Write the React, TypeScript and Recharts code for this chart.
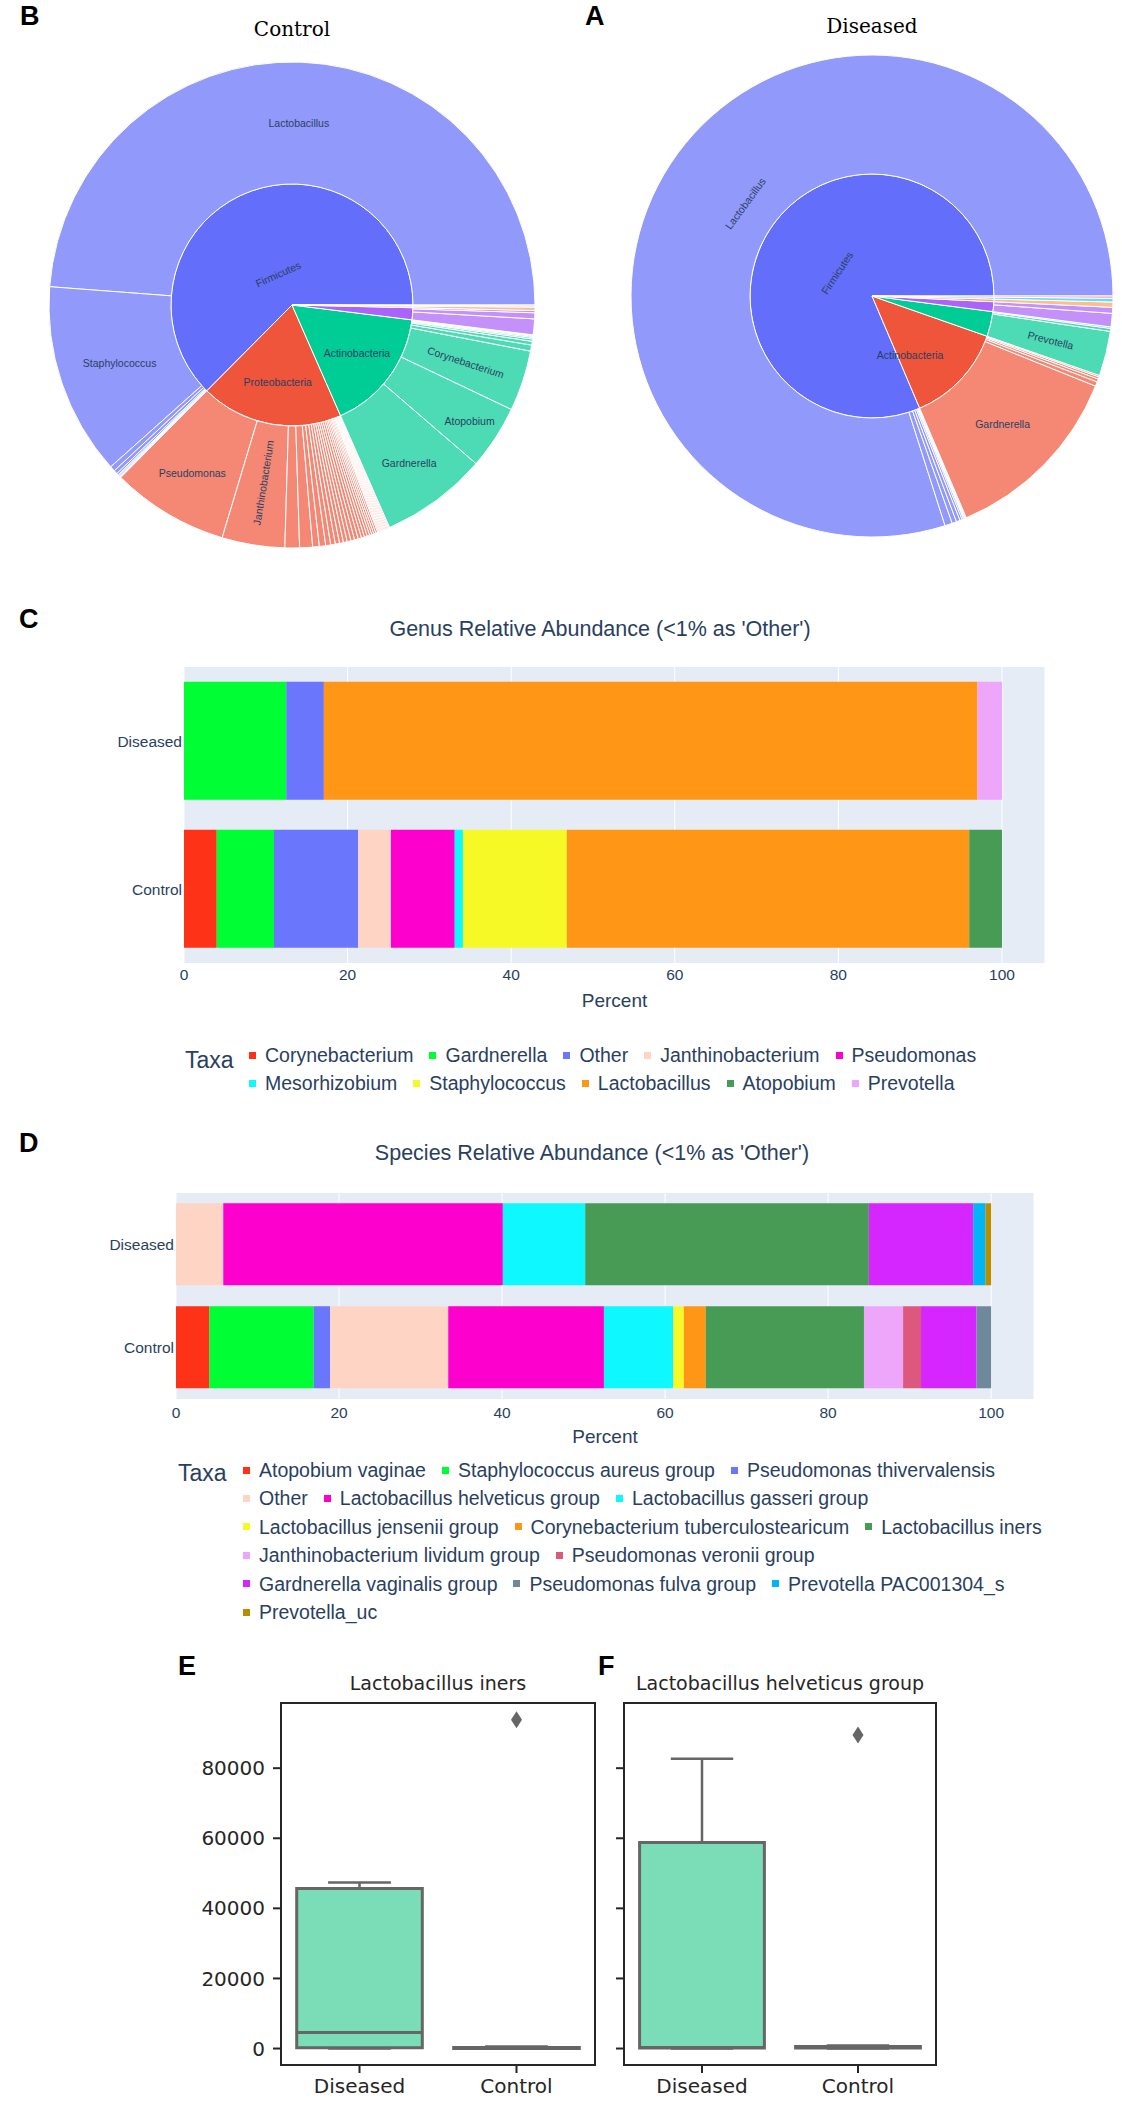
import React from 'react';
import {
  PieChart, Pie, Cell, BarChart, Bar, XAxis, YAxis, CartesianGrid,
  ComposedChart, Scatter, ReferenceArea, ReferenceLine,
} from 'recharts';

const SANS = '"Liberation Sans", Arial, sans-serif';
const DEJAVU = '"DejaVu Sans", sans-serif';
const SERIF = '"DejaVu Serif", serif';
const PLOTLY = ['#636EFA', '#EF553B', '#00CC96', '#AB63FA', '#FFA15A', '#19D3F3', '#FF6692'];
const LIGHT24 = ['#FD3216', '#00FE35', '#6A76FC', '#FED4C4', '#FE00CE', '#0DF9FF', '#F6F926', '#FF9616',
  '#479B55', '#EEA6FB', '#DC587D', '#D626FF', '#6E899C', '#00B5F7', '#B68E00'];

/* ---------- B: Control sunburst (percent of reads) ---------- */
const controlPhyla = ['Firmicutes', 'Proteobacteria', 'Actinobacteria', 'Bacteroidetes', 'Fusobacteria', 'Tenericutes', 'Chloroflexi'];
const ctrlFirmicutesNames = ['Lactobacillus', 'Staphylococcus'];
const ctrlFirmicutesValues = [48.8, 12.8, 0.35, 0.25, 0.12, 0.06, 0.06, 0.06, 0.06];
const ctrlProteoNames = ['Pseudomonas', 'Janthinobacterium', 'Mesorhizobium'];
const ctrlProteoValues = [7.8, 4.17, 0.97, 0.86, 0.44, 0.42, 0.33, 0.31, 0.28, 0.26, 0.25, 0.25, 0.25, 0.25,
  0.22, 0.2, 0.19, 0.17, 0.15, 0.14, 0.14, 0.13, 0.07, 0.07, 0.07, 0.07, 0.07, 0.07, 0.07, 0.07, 0.07, 0.07, 0.07, 0.07];
const ctrlActinoNames = ['Gardnerella', 'Atopobium', 'Corynebacterium'];
const ctrlActinoValues = [7.1, 4.25, 4.03, 0.4, 0.25, 0.15, 0.1, 0.08, 0.06, 0.04];
const ctrlBacteroValues = [1.05, 0.4, 0.15];
const ctrlFusoValues = [0.22];
const ctrlTeneValues = [0.08];
const ctrlChloroValues = [0.06];

/* ---------- A: Diseased sunburst ---------- */
const diseasedPhyla = ['Firmicutes', 'Actinobacteria', 'Bacteroidetes', 'Proteobacteria', 'Fusobacteria', 'Tenericutes', 'Chloroflexi'];
const disFirmicutesNames = ['Lactobacillus'];
const disFirmicutesValues = [79.9, 0.5, 0.3, 0.25, 0.15, 0.1, 0.05, 0.05, 0.05, 0.05];
const disActinoNames = ['Gardnerella'];
const disActinoValues = [12.5, 0.3, 0.2, 0.15, 0.1];
const disBacteroNames = ['Prevotella'];
const disBacteroValues = [3.0, 0.2, 0.1];
const disProteoValues = [0.9, 0.4];
const disFusoValues = [0.35];
const disTeneValues = [0.25];
const disChloroValues = [0.15];

/* ---------- C: genus relative abundance ---------- */
const groups = ['Diseased', 'Control'];
const genusTaxa = ['Corynebacterium', 'Gardnerella', 'Other', 'Janthinobacterium', 'Pseudomonas',
  'Mesorhizobium', 'Staphylococcus', 'Lactobacillus', 'Atopobium', 'Prevotella'];
const genusDiseased = [0, 12.5, 4.6, 0, 0, 0, 0, 79.9, 0, 3.0];
const genusControl = [4.0, 7.0, 10.3, 4.0, 7.8, 1.0, 12.7, 49.2, 4.0, 0];
const genusLegendRows = [5, 5];

/* ---------- D: species relative abundance ---------- */
const speciesTaxa = ['Atopobium vaginae', 'Staphylococcus aureus group', 'Pseudomonas thivervalensis', 'Other',
  'Lactobacillus helveticus group', 'Lactobacillus gasseri group', 'Lactobacillus jensenii group',
  'Corynebacterium tuberculostearicum', 'Lactobacillus iners', 'Janthinobacterium lividum group',
  'Pseudomonas veronii group', 'Gardnerella vaginalis group', 'Pseudomonas fulva group',
  'Prevotella PAC001304_s', 'Prevotella_uc'];
const speciesDiseased = [0, 0, 0, 5.8, 34.3, 10.1, 0, 0, 34.8, 0, 0, 12.8, 0, 1.5, 0.7];
const speciesControl = [4.1, 12.8, 2.0, 14.5, 19.1, 8.5, 1.3, 2.7, 19.4, 4.8, 2.2, 6.8, 1.8, 0, 0];
const speciesLegendRows = [3, 3, 3, 2, 3, 1];
const percentTicks = [0, 20, 40, 60, 80, 100];

/* ---------- E / F: box plots (read counts) ---------- */
const boxGroups = ['Diseased', 'Control'];
const inersLow = [0, 0];
const inersQ1 = [200, 40];
const inersMedian = [4600, 120];
const inersQ3 = [45700, 320];
const inersHigh = [47400, 600];
const inersOutlierGroup = [1];
const inersOutlierValue = [93800];
const helvLow = [0, 0];
const helvQ1 = [150, 120];
const helvMedian = [300, 300];
const helvQ3 = [58800, 600];
const helvHigh = [82700, 900];
const helvOutlierGroup = [1];
const helvOutlierValue = [89500];
const countTicks = [0, 20000, 40000, 60000, 80000];
const countDomain = [-4700, 98600];

/* ---------- helpers ---------- */
const RAD = Math.PI / 180;
const sum = (a: number[]) => a.reduce((s, v) => s + v, 0);

function buildRings(phyla: string[], values: number[][], names: string[][]) {
  const inner = phyla.map((p, i) => ({ name: p, value: sum(values[i]), color: i }));
  const outer = values.flatMap((vals, i) =>
    vals.map((v, j) => ({ name: names[i][j] ?? `${phyla[i]} minor ${j + 1}`, value: v, color: i })));
  return { inner, outer };
}

const ctrlRings = buildRings(controlPhyla,
  [ctrlFirmicutesValues, ctrlProteoValues, ctrlActinoValues, ctrlBacteroValues, ctrlFusoValues, ctrlTeneValues, ctrlChloroValues],
  [ctrlFirmicutesNames, ctrlProteoNames, ctrlActinoNames, [], [], [], []]);
const disRings = buildRings(diseasedPhyla,
  [disFirmicutesValues, disActinoValues, disBacteroValues, disProteoValues, disFusoValues, disTeneValues, disChloroValues],
  [disFirmicutesNames, disActinoNames, disBacteroNames, [], [], [], []]);

type LabelCfg = { r: number; mode: 'h' | 'tan' | 'rad'; angle?: number; rot?: number };
const normRot = (a: number) => {
  let v = ((a % 360) + 360) % 360;
  if (v > 180) v -= 360;
  if (v > 90) v -= 180;
  if (v <= -90) v += 180;
  return v;
};

function makeLabel(cfg: Record<string, LabelCfg>) {
  return (props: any) => {
    const name = props?.payload?.name ?? props?.name;
    const c = cfg[name];
    if (!c) return <g key={`nl${props.index}`} />;
    const ang = c.angle ?? props.midAngle;
    const x = props.cx + c.r * Math.cos(-ang * RAD);
    const y = props.cy + c.r * Math.sin(-ang * RAD);
    let rot = 0;
    if (c.rot !== undefined) rot = c.rot;
    else if (c.mode === 'tan') rot = normRot(90 - ang);
    else if (c.mode === 'rad') rot = normRot(-ang);
    return (
      <text key={`l${props.index}`} x={x} y={y} transform={`rotate(${rot} ${x} ${y})`} textAnchor="middle"
        dominantBaseline="central" fontSize={10.5} fill="#2a3f5f" fontFamily={SANS}>{name}</text>
    );
  };
}

const ctrlInnerLabels: Record<string, LabelCfg> = {
  Firmicutes: { r: 34, mode: 'tan', angle: 114 },
  Proteobacteria: { r: 78, mode: 'h' },
  Actinobacteria: { r: 81, mode: 'h' },
};
const ctrlOuterLabels: Record<string, LabelCfg> = {
  Lactobacillus: { r: 182, mode: 'h' },
  Staphylococcus: { r: 182, mode: 'h' },
  Pseudomonas: { r: 195, mode: 'h' },
  Janthinobacterium: { r: 180, mode: 'rad' },
  Gardnerella: { r: 197, mode: 'h' },
  Atopobium: { r: 212, mode: 'h' },
  Corynebacterium: { r: 183, mode: 'rad' },
};
const disInnerLabels: Record<string, LabelCfg> = {
  Firmicutes: { r: 42, mode: 'tan' },
  Actinobacteria: { r: 70, mode: 'h', angle: 303 },
};
const disOuterLabels: Record<string, LabelCfg> = {
  Lactobacillus: { r: 157, mode: 'tan' },
  Gardnerella: { r: 183, mode: 'h' },
  Prevotella: { r: 184, mode: 'rad' },
};

function rowsFor(taxa: string[], byGroup: number[][]) {
  return groups.map((g, gi) => {
    const row: Record<string, any> = { group: g };
    taxa.forEach((_, ti) => { row[`v${ti}`] = byGroup[gi][ti]; });
    return row;
  });
}
const genusRows = rowsFor(genusTaxa, [genusDiseased, genusControl]);
const speciesRows = rowsFor(speciesTaxa, [speciesDiseased, speciesControl]);

function TaxaLegend(p: { taxa: string[]; rows: number[]; titleX: number; titleY: number; itemX: number; rowY: number; step: number }) {
  const starts = p.rows.map((_, i) => sum(p.rows.slice(0, i)));
  return (
    <>
      <div style={{ position: 'absolute', left: p.titleX, top: p.titleY - 15, height: 30, lineHeight: '30px',
        fontSize: 23, color: '#2a3f5f', fontFamily: SANS, whiteSpace: 'nowrap' }}>Taxa</div>
      {p.rows.map((n, r) => (
        <div key={r} style={{ position: 'absolute', left: p.itemX, top: p.rowY + r * p.step - 14, height: 28,
          display: 'flex', alignItems: 'center', whiteSpace: 'nowrap', fontFamily: SANS, fontSize: 19.5, color: '#2a3f5f' }}>
          {p.taxa.slice(starts[r], starts[r] + n).map((t, k) => (
            <div key={t} style={{ display: 'flex', alignItems: 'center', marginRight: 16 }}>
              <span style={{ width: 7, height: 7, background: LIGHT24[starts[r] + k], marginRight: 9, display: 'inline-block' }} />
              <span style={{ lineHeight: '28px' }}>{t}</span>
            </div>
          ))}
        </div>
      ))}
    </>
  );
}

function AbundanceChart(p: { rows: any[]; taxa: string[]; top: number; height: number; margin: any }) {
  return (
    <div style={{ position: 'absolute', left: 0, top: p.top }}>
      <BarChart layout="vertical" width={1122} height={p.height} data={p.rows} margin={p.margin} barCategoryGap="10%">
        <CartesianGrid horizontal={false} stroke="#FFFFFF" strokeWidth={1} fill="#E5ECF6" />
        <XAxis type="number" domain={[0, 105.26]} ticks={percentTicks} allowDataOverflow height={57}
          tickSize={0} tickMargin={p.margin.tickMargin ?? 6} axisLine={false} tickLine={false} interval={0}
          tick={{ fontSize: 15.5, fill: '#2a3f5f', fontFamily: SANS }}
          label={{ value: 'Percent', position: 'insideBottom', offset: 13, fill: '#2a3f5f', fontSize: 19, fontFamily: SANS }} />
        <YAxis type="category" dataKey="group" width={100} tickSize={0} tickMargin={2} axisLine={false} tickLine={false}
          tick={{ fontSize: 15.5, fill: '#2a3f5f', fontFamily: SANS }} />
        {p.taxa.map((t, i) => (
          <Bar key={t} name={t} dataKey={`v${i}`} stackId="s" fill={LIGHT24[i]} isAnimationActive={false} />
        ))}
      </BarChart>
    </div>
  );
}

const BOX_FILL = '#7ADDB8';
const BOX_LINE = '#666666';
const AX = '#262626';

function boxElements(lo: number[], q1: number[], med: number[], q3: number[], hi: number[]) {
  return boxGroups.flatMap((_, i) => [
    <ReferenceLine key={`wl${i}`} segment={[{ x: i, y: lo[i] }, { x: i, y: q1[i] }]} stroke={BOX_LINE} strokeWidth={2.5} />,
    <ReferenceLine key={`wh${i}`} segment={[{ x: i, y: q3[i] }, { x: i, y: hi[i] }]} stroke={BOX_LINE} strokeWidth={2.5} />,
    <ReferenceLine key={`cl${i}`} segment={[{ x: i - 0.2, y: lo[i] }, { x: i + 0.2, y: lo[i] }]} stroke={BOX_LINE} strokeWidth={2.5} />,
    <ReferenceLine key={`ch${i}`} segment={[{ x: i - 0.2, y: hi[i] }, { x: i + 0.2, y: hi[i] }]} stroke={BOX_LINE} strokeWidth={2.5} />,
    <ReferenceArea key={`b${i}`} x1={i - 0.4} x2={i + 0.4} y1={q1[i]} y2={q3[i]} fill={BOX_FILL} fillOpacity={1}
      stroke={BOX_LINE} strokeWidth={3} />,
    <ReferenceLine key={`m${i}`} segment={[{ x: i - 0.4, y: med[i] }, { x: i + 0.4, y: med[i] }]} stroke={BOX_LINE} strokeWidth={3} />,
  ]);
}

const diamond = (props: any) => {
  const { cx, cy } = props;
  return <path d={`M${cx},${cy - 8.5} L${cx + 5.5},${cy} L${cx},${cy + 8.5} L${cx - 5.5},${cy} Z`} fill={BOX_LINE} />;
};

function BoxPanel(p: { left: number; width: number; marginLeft: number; marginRight: number; yWidth: number; labels: boolean;
  lo: number[]; q1: number[]; med: number[]; q3: number[]; hi: number[]; og: number[]; ov: number[] }) {
  const outliers = p.og.map((g, i) => ({ x: g, y: p.ov[i] }));
  return (
    <div style={{ position: 'absolute', left: p.left, top: 1680 }}>
      <ComposedChart width={p.width} height={429} margin={{ top: 23, right: p.marginRight, bottom: 0, left: p.marginLeft }}>
        <XAxis type="number" dataKey="x" domain={[-0.5, 1.5]} ticks={[0, 1]} allowDataOverflow interval={0}
          tickFormatter={(v: number) => boxGroups[v]} height={44} tickSize={8} tickMargin={6} axisLine={false}
          tickLine={{ stroke: AX, strokeWidth: 2 }} tick={{ fontSize: 20, fill: AX, fontFamily: DEJAVU }} />
        <YAxis type="number" dataKey="y" domain={countDomain} ticks={countTicks} allowDataOverflow interval={0}
          width={p.yWidth} tickSize={8} tickMargin={8} axisLine={false}
          tickFormatter={(v: number) => (p.labels ? String(v) : '')}
          tickLine={{ stroke: AX, strokeWidth: 2 }} tick={{ fontSize: 20, fill: AX, fontFamily: DEJAVU }} />
        {boxElements(p.lo, p.q1, p.med, p.q3, p.hi)}
        <ReferenceArea x1={-0.5} x2={1.5} y1={countDomain[0]} y2={countDomain[1]} fill="none" stroke={AX} strokeWidth={2} />
        <Scatter data={outliers} shape={diamond} isAnimationActive={false} />
      </ComposedChart>
    </div>
  );
}

export default function App() {
  return (
    <div style={{ position: 'absolute', left: 0, top: 0, width: 1122, height: 2109, background: '#fff', overflow: 'hidden' }}>
      <div style={{ position: 'absolute', left: 0, top: 0 }}>
        <PieChart width={1122} height={560} margin={{ top: 0, right: 0, bottom: 0, left: 0 }}>
          <Pie data={ctrlRings.inner} dataKey="value" nameKey="name" cx={292} cy={305} innerRadius={0} outerRadius={121}
            startAngle={0} endAngle={360} stroke="#fff" strokeWidth={1} isAnimationActive={false}
            label={makeLabel(ctrlInnerLabels)} labelLine={false}>
            {ctrlRings.inner.map((d, i) => <Cell key={i} fill={PLOTLY[d.color]} />)}
          </Pie>
          <Pie data={ctrlRings.outer} dataKey="value" nameKey="name" cx={292} cy={305} innerRadius={121} outerRadius={243}
            startAngle={0} endAngle={360} stroke="#fff" strokeWidth={1} isAnimationActive={false}
            label={makeLabel(ctrlOuterLabels)} labelLine={false}>
            {ctrlRings.outer.map((d, i) => <Cell key={i} fill={PLOTLY[d.color]} fillOpacity={0.7} />)}
          </Pie>
          <Pie data={disRings.inner} dataKey="value" nameKey="name" cx={872} cy={296} innerRadius={0} outerRadius={122}
            startAngle={0} endAngle={360} stroke="#fff" strokeWidth={1} isAnimationActive={false}
            label={makeLabel(disInnerLabels)} labelLine={false}>
            {disRings.inner.map((d, i) => <Cell key={i} fill={PLOTLY[d.color]} />)}
          </Pie>
          <Pie data={disRings.outer} dataKey="value" nameKey="name" cx={872} cy={296} innerRadius={122} outerRadius={241}
            startAngle={0} endAngle={360} stroke="#fff" strokeWidth={1} isAnimationActive={false}
            label={makeLabel(disOuterLabels)} labelLine={false}>
            {disRings.outer.map((d, i) => <Cell key={i} fill={PLOTLY[d.color]} fillOpacity={0.7} />)}
          </Pie>
        </PieChart>
      </div>

      <AbundanceChart rows={genusRows} taxa={genusTaxa} top={640} height={380}
        margin={{ top: 27, right: 77, bottom: 0, left: 84, tickMargin: 6 }} />
      <TaxaLegend taxa={genusTaxa} rows={genusLegendRows} titleX={185} titleY={1060} itemX={249} rowY={1055} step={28} />

      <AbundanceChart rows={speciesRows} taxa={speciesTaxa} top={1170} height={286}
        margin={{ top: 23, right: 88, bottom: 0, left: 76, tickMargin: 8 }} />
      <TaxaLegend taxa={speciesTaxa} rows={speciesLegendRows} titleX={178} titleY={1473} itemX={243} rowY={1470} step={28.4} />

      <BoxPanel left={180} width={440} marginLeft={21} marginRight={25} yWidth={80} labels
        lo={inersLow} q1={inersQ1} med={inersMedian} q3={inersQ3} hi={inersHigh} og={inersOutlierGroup} ov={inersOutlierValue} />
      <BoxPanel left={600} width={360} marginLeft={14} marginRight={24} yWidth={10} labels={false}
        lo={helvLow} q1={helvQ1} med={helvMedian} q3={helvQ3} hi={helvHigh} og={helvOutlierGroup} ov={helvOutlierValue} />

      <svg width={1122} height={2109} style={{ position: 'absolute', left: 0, top: 0, pointerEvents: 'none' }}>
        <g fontFamily={SANS} fontWeight="bold" fontSize={27} fill="#000">
          <text x={20} y={25}>B</text>
          <text x={585} y={25}>A</text>
          <text x={19} y={628}>C</text>
          <text x={19} y={1152}>D</text>
          <text x={178} y={1675}>E</text>
          <text x={598} y={1675}>F</text>
        </g>
        <text x={292} y={36} textAnchor="middle" fontFamily={SERIF} fontSize={20} fill="#000">Control</text>
        <text x={872} y={33} textAnchor="middle" fontFamily={SERIF} fontSize={20} fill="#000">Diseased</text>
        <text x={600} y={636} textAnchor="middle" fontFamily={SANS} fontSize={21.5} fill="#2a3f5f">Genus Relative Abundance (&lt;1% as 'Other')</text>
        <text x={592} y={1160} textAnchor="middle" fontFamily={SANS} fontSize={21.5} fill="#2a3f5f">Species Relative Abundance (&lt;1% as 'Other')</text>
        <text x={438} y={1690} textAnchor="middle" fontFamily={DEJAVU} fontSize={19} fill={AX}>Lactobacillus iners</text>
        <text x={780} y={1690} textAnchor="middle" fontFamily={DEJAVU} fontSize={19} fill={AX}>Lactobacillus helveticus group</text>
      </svg>
    </div>
  );
}
